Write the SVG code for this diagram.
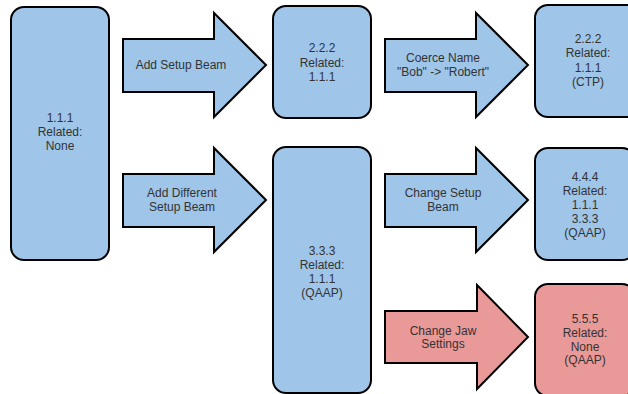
<svg xmlns="http://www.w3.org/2000/svg" width="628" height="394" viewBox="0 0 628 394">
  <style>
    .box { stroke: #000; stroke-width: 2; }
    .blue { fill: #9fc5e8; }
    .red { fill: #ea9999; }
    .arrow { stroke: #000; stroke-width: 2; stroke-linejoin: miter; }
    text { font-family: "Liberation Sans", Arial, sans-serif; font-size: 12px; fill: #333; text-anchor: middle; }
  </style>
  <rect width="628" height="394" fill="#fff"/>

  <!-- step arrows -->
  <g id="connectors">
    <g id="arrow-add-setup">
      <path class="arrow blue" d="M123,39 H214 V13 L266,65 L214,117 V92 H123 Z"/>
      <text x="181" y="69">Add Setup Beam</text>
    </g>
    <g id="arrow-coerce">
      <path class="arrow blue" d="M385,39 H476 V13 L528,65 L476,117 V92 H385 Z"/>
      <text x="443" y="62">Coerce Name</text>
      <text x="443" y="76">"Bob" -&gt; "Robert"</text>
    </g>
    <g id="arrow-add-different">
      <path class="arrow blue" d="M123,174 H214 V148 L266,200 L214,252 V227 H123 Z"/>
      <text x="182" y="197">Add Different</text>
      <text x="182" y="211">Setup Beam</text>
    </g>
    <g id="arrow-change-setup">
      <path class="arrow blue" d="M385,174 H476 V148 L528,200 L476,252 V227 H385 Z"/>
      <text x="443" y="197">Change Setup</text>
      <text x="443" y="211">Beam</text>
    </g>
    <g id="arrow-change-jaw">
      <path class="arrow red" d="M385,311 H477 V285 L528,337 L477,389 V363 H385 Z"/>
      <text x="443" y="335">Change Jaw</text>
      <text x="443" y="348">Settings</text>
    </g>
  </g>

  <!-- plan states -->
  <g id="node-111">
    <rect class="box blue" x="11" y="7" width="98" height="253" rx="13"/>
    <text x="60" y="122">1.1.1</text>
    <text x="60" y="136">Related:</text>
    <text x="60" y="150">None</text>
  </g>
  <g id="node-222">
    <rect class="box blue" x="273" y="6" width="98" height="112" rx="13"/>
    <text x="322" y="52">2.2.2</text>
    <text x="322" y="67">Related:</text>
    <text x="322" y="81">1.1.1</text>
  </g>
  <g id="node-222-ctp">
    <rect class="box blue" x="535" y="5" width="106" height="112" rx="13"/>
    <text x="588" y="43">2.2.2</text>
    <text x="588" y="57">Related:</text>
    <text x="588" y="72">1.1.1</text>
    <text x="588" y="86">(CTP)</text>
  </g>
  <g id="node-333">
    <rect class="box blue" x="273" y="147" width="98" height="246" rx="13"/>
    <text x="322" y="255">3.3.3</text>
    <text x="322" y="269">Related:</text>
    <text x="322" y="283">1.1.1</text>
    <text x="322" y="297">(QAAP)</text>
  </g>
  <g id="node-444">
    <rect class="box blue" x="535" y="148" width="100" height="112" rx="13"/>
    <text x="585" y="181">4.4.4</text>
    <text x="585" y="195">Related:</text>
    <text x="585" y="209">1.1.1</text>
    <text x="585" y="223">3.3.3</text>
    <text x="585" y="237">(QAAP)</text>
  </g>
  <g id="node-555">
    <rect class="box red" x="535" y="284" width="100" height="112" rx="13"/>
    <text x="585" y="323">5.5.5</text>
    <text x="585" y="337">Related:</text>
    <text x="585" y="351">None</text>
    <text x="585" y="364">(QAAP)</text>
  </g>
</svg>
